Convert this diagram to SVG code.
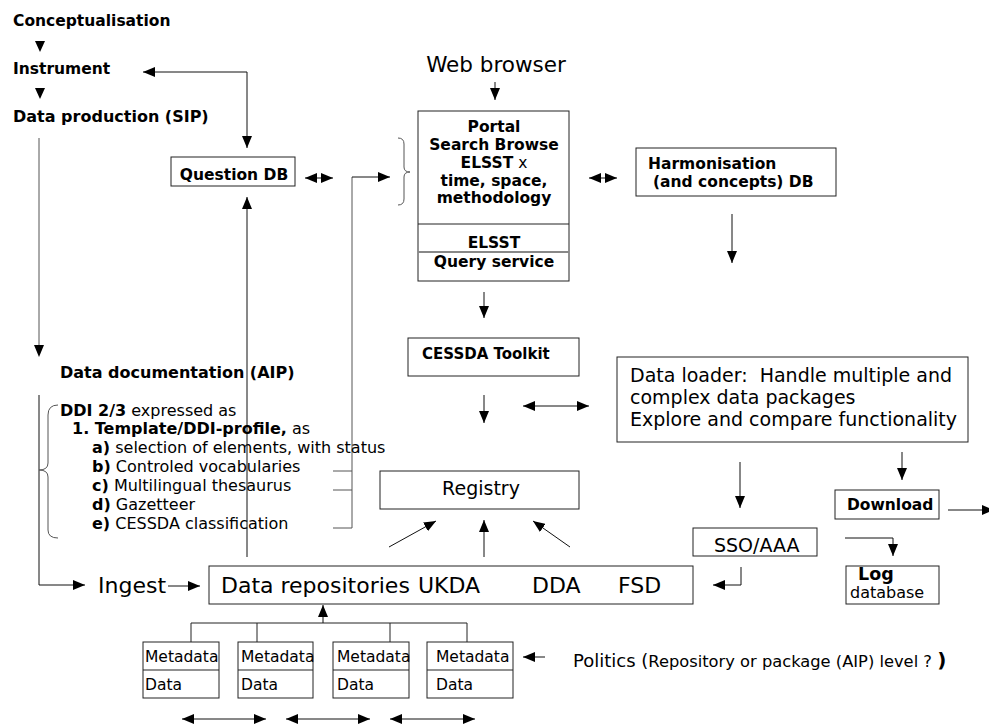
<svg xmlns="http://www.w3.org/2000/svg" width="989" height="724" viewBox="0 0 989 724">
<style>
text{font-family:"DejaVu Sans","Liberation Sans",sans-serif;fill:#000}
.b{font-weight:bold;font-size:15.5px}
.n{font-size:19px}
.s{font-size:16px}
.box{fill:#fff;stroke:#222;stroke-width:1}
.ln{fill:none;stroke:#222;stroke-width:1}
.gl{fill:none;stroke:#555;stroke-width:1}
.ar{fill:none;stroke:#111;stroke-width:1;marker-end:url(#ah)}
.da{fill:none;stroke:#111;stroke-width:1;marker-end:url(#ah);marker-start:url(#ah)}
.tri{fill:#000}
</style>
<defs>
<marker id="ah" markerUnits="userSpaceOnUse" markerWidth="12" markerHeight="10" refX="12" refY="5" orient="auto-start-reverse">
<path d="M0,0 L12,5 L0,10 z" fill="#000"/>
</marker>
</defs>
<rect width="989" height="724" fill="#fff"/>

<g id="connectors">
<polygon class="tri" points="35,41 45,41 40,52"/>
<polygon class="tri" points="35,88 45,88 40,99"/>
<path class="ar" d="M247,72 L143,72"/>
<path class="ar" d="M247,72 L247,148"/>
<path class="gl" d="M39,138 L39,346"/>
<polygon class="tri" points="34,345 44,345 39,357"/>
<path class="ar" d="M39,395 L39,585 L85,585"/>
<path class="ar" d="M168,586 L200,586"/>
<path class="ar" d="M247,557 L247,197"/>
<path class="da" d="M305,178 L333,178"/>
<path class="gl" d="M333,471 L352,471 M333,490 L352,490 M333,528 L352,528 L352,177"/>
<path class="ar" d="M352,177 L390,177"/>
<path class="gl" d="M398,138 Q404,138 404,144 L404,167 Q404,172 410,172 Q404,172 404,177 L404,199 Q404,205 398,205"/>
<path class="gl" d="M58,405 Q48,405 48,415 L48,463 Q48,470 39,470 Q48,470 48,477 L48,530 Q48,538 58,538"/>
<path class="ar" d="M495,82 L495,100"/>
<path class="da" d="M589,178 L617,178"/>
<path class="ar" d="M732,214 L732,263"/>
<path class="ar" d="M484,292 L484,318"/>
<path class="ar" d="M484,395 L484,423"/>
<path class="da" d="M523,406 L589,406"/>
<path class="ar" d="M740,462 L740,508"/>
<path class="ar" d="M902,452 L902,480"/>
<path class="ar" d="M948,510 L994,510"/>
<path class="ar" d="M741,567 L741,585 L713,585"/>
<path class="ar" d="M845,538 L893,538 L893,556"/>
<path class="ar" d="M389,547 L436,521"/>
<path class="ar" d="M484,557 L484,520"/>
<path class="ar" d="M570,547 L533,521"/>
<path class="ln" d="M191,642 L191,623 L467,623 L467,642 M257,623 L257,642 M390,623 L390,642"/>
<path class="ar" d="M323,623 L323,605"/>
<path class="ar" d="M545,657 L523,657"/>
<path class="da" d="M182,719 L266,719"/>
<path class="da" d="M286,719 L370,719"/>
<path class="da" d="M390,719 L475,719"/>
</g>

<g id="conceptualisation"><text class="b" x="13" y="26">Conceptualisation</text></g>
<g id="instrument"><text class="b" x="13" y="74">Instrument</text></g>
<g id="data-production"><text class="b" x="13" y="122" style="font-size:16px">Data production (SIP)</text></g>

<g id="question-db">
<rect class="box" x="171" y="157" width="124" height="29"/>
<text class="b" x="234" y="180" text-anchor="middle">Question DB</text>
</g>

<g id="web-browser"><text x="496" y="72" text-anchor="middle" style="font-size:21.5px">Web browser</text></g>

<g id="portal">
<rect class="box" x="418" y="111" width="151" height="170"/>
<line x1="418" y1="224" x2="569" y2="224" stroke="#222" stroke-width="1"/>
<line x1="418" y1="252" x2="569" y2="252" stroke="#888" stroke-width="2"/>
<text class="b" x="494" y="132" text-anchor="middle">Portal</text>
<text class="b" x="494" y="150" text-anchor="middle">Search Browse</text>
<text class="b" x="494" y="168" text-anchor="middle">ELSST<tspan style="font-weight:normal"> x</tspan></text>
<text class="b" x="494" y="186" text-anchor="middle">time, space,</text>
<text class="b" x="494" y="203" text-anchor="middle">methodology</text>
<text class="b" x="494" y="248" text-anchor="middle">ELSST</text>
<text class="b" x="494" y="267" text-anchor="middle">Query service</text>
</g>

<g id="harmonisation">
<rect class="box" x="636" y="148" width="200" height="48"/>
<text class="b" x="648" y="169">Harmonisation</text>
<text class="b" x="653" y="187">(and concepts) DB</text>
</g>

<g id="cessda-toolkit">
<rect class="box" x="408" y="338" width="171" height="38"/>
<text class="b" x="422" y="359" style="font-size:15px">CESSDA Toolkit</text>
</g>

<g id="data-loader">
<rect class="box" x="617" y="357" width="351" height="85"/>
<text class="n" x="630" y="382" xml:space="preserve">Data loader:  Handle multiple and</text>
<text class="n" x="630" y="404">complex data packages</text>
<text class="n" x="630" y="426">Explore and compare functionality</text>
</g>

<g id="download">
<rect class="box" x="835" y="490" width="104" height="29"/>
<text class="b" x="847" y="510">Download</text>
</g>

<g id="sso-aaa">
<rect class="box" x="693" y="528" width="124" height="28"/>
<text class="n" x="714" y="552">SSO/AAA</text>
</g>

<g id="log-database">
<rect class="box" x="846" y="566" width="93" height="38"/>
<text x="858" y="580" style="font-weight:bold;font-size:17.5px">Log</text>
<text x="850" y="598" style="font-size:16px">database</text>
</g>

<g id="registry">
<rect class="box" x="380" y="471" width="199" height="38"/>
<text class="n" x="481" y="495" text-anchor="middle">Registry</text>
</g>

<g id="data-documentation">
<text class="b" x="60" y="378" style="font-size:16px">Data documentation (AIP)</text>
<text class="s" x="60" y="416"><tspan font-weight="bold">DDI 2/3</tspan> expressed as</text>
<text class="s" x="72" y="434"><tspan font-weight="bold">1. Template/DDI-profile,</tspan> as</text>
<text class="s" x="92" y="453"><tspan font-weight="bold">a)</tspan> selection of elements, with status</text>
<text class="s" x="92" y="472"><tspan font-weight="bold">b)</tspan> Controled vocabularies</text>
<text class="s" x="92" y="491"><tspan font-weight="bold">c)</tspan> Multilingual thesaurus</text>
<text class="s" x="92" y="510"><tspan font-weight="bold">d)</tspan> Gazetteer</text>
<text class="s" x="92" y="529"><tspan font-weight="bold">e)</tspan> CESSDA classification</text>
</g>

<g id="ingest"><text x="98" y="593" style="font-size:22px">Ingest</text></g>

<g id="data-repositories">
<rect class="box" x="209" y="566" width="484" height="38"/>
<text x="221" y="593" style="font-size:22px">Data repositories</text>
<text x="418" y="593" style="font-size:22px">UKDA</text>
<text x="532" y="593" style="font-size:22px">DDA</text>
<text x="618" y="593" style="font-size:22px">FSD</text>
</g>

<g id="metadata-1">
<rect class="box" x="143" y="642" width="76" height="56"/>
<line x1="143" y1="670" x2="219" y2="670" stroke="#222"/>
<text class="s" x="145" y="662" style="font-size:15.5px">Metadata</text>
<text class="s" x="145" y="690" style="font-size:15.5px">Data</text>
</g>
<g id="metadata-2">
<rect class="box" x="238" y="642" width="75" height="56"/>
<line x1="238" y1="670" x2="313" y2="670" stroke="#222"/>
<text class="s" x="241" y="662" style="font-size:15.5px">Metadata</text>
<text class="s" x="241" y="690" style="font-size:15.5px">Data</text>
</g>
<g id="metadata-3">
<rect class="box" x="333" y="642" width="76" height="56"/>
<line x1="333" y1="670" x2="409" y2="670" stroke="#222"/>
<text class="s" x="337" y="662" style="font-size:15.5px">Metadata</text>
<text class="s" x="337" y="690" style="font-size:15.5px">Data</text>
</g>
<g id="metadata-4">
<rect class="box" x="427" y="642" width="86" height="56"/>
<line x1="427" y1="670" x2="513" y2="670" stroke="#222"/>
<text class="s" x="436" y="662" style="font-size:15.5px">Metadata</text>
<text class="s" x="436" y="690" style="font-size:15.5px">Data</text>
</g>

<g id="politics">
<text x="573" y="667" style="font-size:18px">Politics (<tspan style="font-size:16.3px">Repository or package (AIP) level ? </tspan><tspan style="font-weight:bold;font-size:20px">)</tspan></text>
</g>
</svg>
